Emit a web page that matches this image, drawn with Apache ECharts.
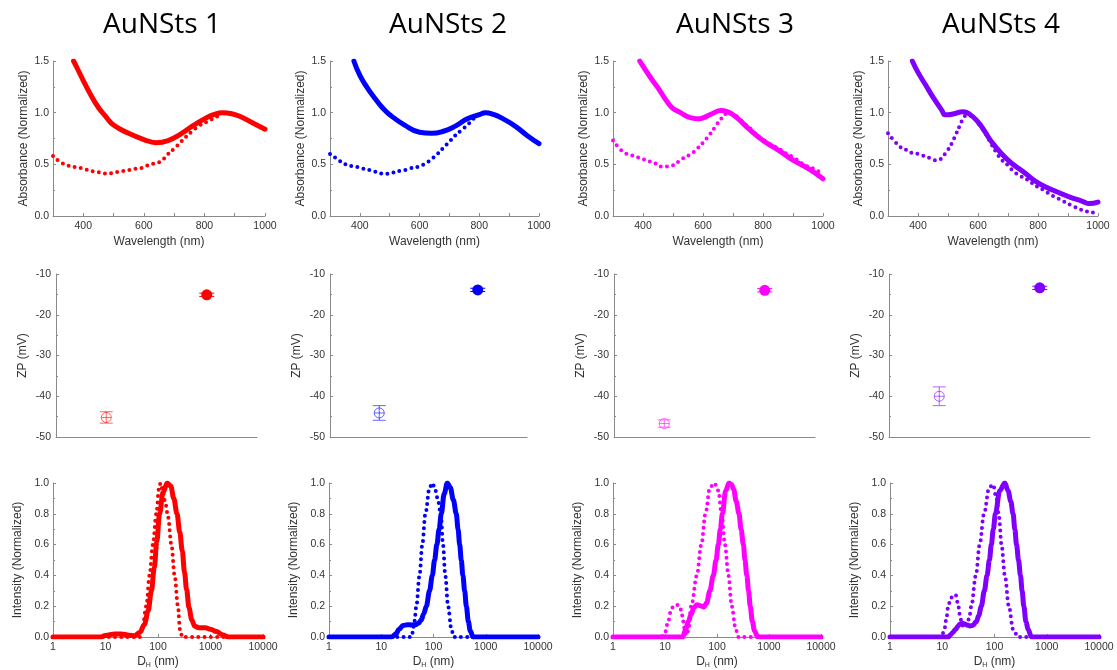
<!DOCTYPE html>
<html><head><meta charset="utf-8">
<script src="https://cdn.jsdelivr.net/npm/echarts@6/dist/echarts.min.js"></script>
<style>html,body{margin:0;padding:0;background:#fff}#c{width:1117px;height:670px}</style>
</head><body><div id="c"></div>
<script>
// ---------- DATA ----------
const panelTitles = ['AuNSts 1', 'AuNSts 2', 'AuNSts 3', 'AuNSts 4'];
const panelColors = ['#ff0000', '#0000ff', '#ff00ff', '#8000ff'];

// UV-Vis absorbance (normalized) vs wavelength (nm)
const absSolid1 = [[368,1.5],[380,1.43],[400,1.31],[425,1.17],[450,1.05],[475,0.96],[500,0.88],[550,0.8],[600,0.74],[640,0.71],[680,0.73],[720,0.79],[760,0.87],[800,0.94],[830,0.98],[860,1.0],[890,0.99],[920,0.96],[960,0.9],[1000,0.84]];
const absDotted1 = [[300,0.58],[320,0.53],[340,0.5],[360,0.48],[380,0.47],[400,0.46],[420,0.44],[440,0.43],[460,0.42],[480,0.41],[500,0.42],[520,0.43],[540,0.44],[560,0.45],[580,0.46],[600,0.47],[620,0.5],[640,0.51],[660,0.54],[680,0.6],[700,0.65],[720,0.71],[740,0.77],[760,0.82],[780,0.87],[800,0.9],[820,0.93],[840,0.96],[860,0.98]];
const absSolid2 = [[380,1.5],[400,1.36],[425,1.24],[450,1.14],[475,1.05],[500,0.98],[550,0.88],[600,0.81],[640,0.8],[680,0.82],[720,0.87],[760,0.94],[800,0.98],[820,1.0],[850,0.98],[880,0.94],[920,0.87],[960,0.78],[1000,0.7]];
const absDotted2 = [[300,0.6],[320,0.56],[340,0.52],[360,0.49],[380,0.48],[400,0.47],[420,0.45],[440,0.44],[460,0.42],[480,0.41],[500,0.41],[520,0.43],[540,0.44],[560,0.45],[580,0.47],[600,0.48],[620,0.51],[640,0.55],[660,0.6],[680,0.66],[700,0.72],[720,0.78],[740,0.83],[760,0.88],[780,0.94],[800,0.98],[820,1.0]];
const absSolid3 = [[389,1.5],[400,1.45],[425,1.34],[450,1.24],[470,1.15],[490,1.07],[500,1.04],[525,1.0],[550,0.96],[580,0.94],[600,0.95],[630,0.99],[660,1.02],[680,1.01],[700,0.98],[725,0.92],[750,0.85],[800,0.73],[850,0.64],[900,0.54],[950,0.46],[1000,0.36]];
const absDotted3 = [[300,0.73],[320,0.66],[340,0.61],[360,0.59],[380,0.57],[400,0.55],[420,0.53],[440,0.51],[460,0.48],[480,0.48],[500,0.49],[520,0.53],[540,0.57],[560,0.6],[580,0.65],[600,0.71],[620,0.78],[640,0.86],[660,0.94],[680,0.99],[700,0.99],[720,0.94],[740,0.89],[760,0.84],[780,0.78],[800,0.74],[820,0.7],[840,0.67],[860,0.64],[880,0.6],[900,0.57],[920,0.53],[940,0.49],[960,0.47],[980,0.44],[1000,0.4]];
const absSolid4 = [[381,1.5],[400,1.39],[425,1.27],[450,1.15],[480,1.02],[490,0.98],[500,0.98],[520,0.99],[550,1.01],[570,0.99],[600,0.91],[620,0.83],[650,0.7],[700,0.54],[750,0.43],[800,0.32],[850,0.25],[900,0.19],[950,0.14],[970,0.12],[1000,0.135]];
const absDotted4 = [[300,0.8],[320,0.73],[340,0.67],[360,0.64],[380,0.61],[400,0.6],[420,0.58],[440,0.56],[460,0.54],[470,0.54],[480,0.57],[500,0.64],[520,0.75],[540,0.88],[550,0.94],[560,0.97],[580,0.97],[600,0.9],[620,0.82],[640,0.72],[660,0.62],[680,0.54],[700,0.49],[720,0.43],[740,0.39],[760,0.36],[780,0.32],[800,0.28],[820,0.25],[840,0.21],[860,0.18],[880,0.15],[900,0.12],[920,0.09],[940,0.065],[960,0.045],[980,0.035],[1000,0.03]];

// Zeta potential (mV): open marker at x=1, filled marker at x=3
const zpOpen = [-45.2, -44.1, -46.7, -40.0];
const zpOpenErr = [1.4, 1.8, 0.9, 2.3];
const zpFilled = [-15.1, -13.9, -14.0, -13.4];
const zpFilledErr = [0.4, 0.4, 0.4, 0.4];
const zpPositions = [1, 3];

// DLS intensity (normalized) vs hydrodynamic diameter (nm)
const dlsSolid1 = [[1,0],[8,0],[10,0.01],[15,0.02],[20,0.02],[28,0.012],[36,0.008],[45,0.03],[55,0.08],[65,0.17],[75,0.3],[85,0.45],[95,0.62],[107,0.8],[125,0.94],[150,1.0],[175,0.98],[200,0.9],[230,0.8],[260,0.68],[290,0.56],[320,0.42],[350,0.31],[390,0.19],[440,0.11],[500,0.07],[600,0.06],[800,0.06],[1000,0.05],[1300,0.035],[1700,0.015],[2200,0],[10000,0]];
const dlsDotted1 = [[1,0],[45,0],[50,0.05],[60,0.2],[69,0.4],[80,0.6],[93,0.8],[104,0.96],[112,1.0],[122,0.96],[140,0.86],[155,0.78],[180,0.6],[207,0.4],[240,0.2],[262,0.05],[290,0],[10000,0]];
const dlsSolid2 = [[1,0],[16,0],[19,0.02],[22,0.05],[26,0.075],[32,0.08],[38,0.078],[45,0.08],[52,0.09],[58,0.11],[65,0.15],[73,0.2],[84,0.3],[95,0.4],[105,0.5],[116,0.6],[128,0.7],[141,0.8],[160,0.93],[184,1.0],[210,0.97],[240,0.89],[273,0.8],[295,0.7],[317,0.6],[340,0.5],[365,0.4],[395,0.3],[425,0.2],[465,0.1],[505,0.04],[575,0],[10000,0]];
const dlsDotted2 = [[1,0],[38,0],[40,0.03],[43,0.1],[47,0.2],[54,0.4],[61,0.6],[70,0.8],[84,0.97],[95,1.0],[105,0.97],[120,0.9],[138,0.8],[152,0.6],[168,0.4],[190,0.2],[220,0.05],[245,0],[10000,0]];
const dlsSolid3 = [[1,0],[22,0],[25,0.05],[28,0.1],[32,0.15],[36,0.19],[41,0.21],[46,0.205],[51,0.2],[56,0.195],[63,0.22],[73,0.3],[85,0.4],[96,0.5],[106,0.6],[116,0.7],[127,0.8],[147,0.95],[170,1.0],[190,0.99],[208,0.96],[235,0.88],[265,0.8],[290,0.7],[322,0.6],[345,0.5],[374,0.4],[405,0.3],[435,0.2],[480,0.1],[525,0.04],[600,0.005],[650,0],[10000,0]];
const dlsDotted3 = [[1,0],[8.5,0],[10,0.03],[11.5,0.1],[13,0.17],[14.5,0.2],[16.5,0.21],[19.5,0.2],[21,0.15],[22.5,0.1],[24,0.04],[26,0.01],[28,0.04],[32,0.2],[41,0.4],[50,0.6],[60,0.8],[73,0.97],[89,1.0],[106,0.95],[123,0.8],[142,0.6],[166,0.4],[192,0.2],[229,0.05],[258,0],[10000,0]];
const dlsSolid4 = [[1,0],[13,0],[14.5,0.015],[16,0.03],[18,0.05],[20,0.07],[22,0.085],[24,0.09],[27,0.085],[30,0.078],[34,0.072],[38,0.075],[45,0.1],[50,0.14],[56,0.2],[64,0.3],[72,0.4],[80,0.5],[87,0.6],[95,0.7],[104,0.8],[126,0.95],[158,1.0],[182,0.95],[205,0.88],[227,0.8],[245,0.7],[264,0.6],[288,0.5],[314,0.4],[338,0.3],[364,0.2],[400,0.1],[440,0.05],[509,0],[10000,0]];
const dlsDotted4 = [[1,0],[9.7,0],[11,0.05],[12,0.12],[13,0.2],[14.5,0.25],[16.2,0.275],[18.3,0.27],[20.3,0.2],[22,0.13],[23.4,0.1],[25,0.07],[27,0.06],[30,0.08],[33,0.13],[36,0.2],[44,0.4],[52,0.6],[63,0.8],[79,0.97],[94,0.99],[109,0.9],[122,0.78],[136,0.6],[158,0.4],[188,0.2],[227,0.05],[282,0],[10000,0]];

// tick labels
const absXTicks = [400, 600, 800, 1000];
const absYTicks = ['0.0', '0.5', '1.0', '1.5'];
const zpYTicks = ['-50', '-40', '-30', '-20', '-10'];
const dlsXTicks = ['1', '10', '100', '1000', '10000'];
const dlsYTicks = ['0.0', '0.2', '0.4', '0.6', '0.8', '1.0'];

const absSolid = [absSolid1, absSolid2, absSolid3, absSolid4];
const absDotted = [absDotted1, absDotted2, absDotted3, absDotted4];
const dlsSolid = [dlsSolid1, dlsSolid2, dlsSolid3, dlsSolid4];
const dlsDotted = [dlsDotted1, dlsDotted2, dlsDotted3, dlsDotted4];

// ---------- LAYOUT ----------
const topRow = {top: 61, height: 155, boxes: [[53,212],[330,209],[613,210],[888,210]]};
const midRow = {top: 274, height: 163, boxes: [[56,201],[330,197],[614,201],[889,201]]};
const botRow = {top: 483, height: 154, boxes: [[53,210],[329,209],[613,208],[890,209]]};
const titleCenters = [157, 443, 730, 996];

const FONT = 'Liberation Sans, Arial, sans-serif';
const axisLineStyle = {lineStyle: {color: '#8a8a8a', width: 1}};
const labelStyle = {color: '#333', fontSize: 10.5, fontFamily: FONT};
const nameStyle = {color: '#333', fontSize: 12, fontFamily: FONT};

function fade(hex, a) {
  const r = parseInt(hex.slice(1,3),16), g = parseInt(hex.slice(3,5),16), b = parseInt(hex.slice(5,7),16);
  return 'rgba(' + r + ',' + g + ',' + b + ',' + a + ')';
}

const grid = [], xAxis = [], yAxis = [], series = [], title = [];

for (let i = 0; i < 4; i++) {
  title.push({
    text: panelTitles[i], left: titleCenters[i], top: 6, textAlign: 'center',
    textStyle: {fontSize: 28, fontWeight: 'normal', color: '#000', fontFamily: 'Open Sans, Noto Sans, sans-serif'}
  });
}

function addGrid(row, i) {
  grid.push({left: row.boxes[i][0], width: row.boxes[i][1], top: row.top, height: row.height, containLabel: false});
  return grid.length - 1;
}

// ---- top row: absorbance
for (let i = 0; i < 4; i++) {
  const g = addGrid(topRow, i);
  xAxis.push({
    gridIndex: g, type: 'value', min: 300, max: 1000, interval: 100,
    name: 'Wavelength (nm)', nameLocation: 'middle', nameGap: 20, nameTextStyle: nameStyle,
    axisLine: axisLineStyle, splitLine: {show: false},
    axisTick: {show: true, inside: true, length: 3, lineStyle: {color: '#8a8a8a'}},
    axisLabel: Object.assign({margin: 5, showMinLabel: false, formatter: v => absXTicks.indexOf(v) >= 0 ? String(v) : ''}, labelStyle)
  });
  yAxis.push({
    gridIndex: g, type: 'value', min: 0, max: 1.5, interval: 0.5,
    name: 'Absorbance (Normalized)', nameLocation: 'middle', nameGap: 23, nameTextStyle: nameStyle,
    axisLine: Object.assign({show: true}, axisLineStyle), splitLine: {show: false},
    axisTick: {show: true, inside: true, length: 3, lineStyle: {color: '#8a8a8a'}},
    minorTick: {show: true, splitNumber: 2, length: 2, lineStyle: {color: '#8a8a8a'}},
    axisLabel: Object.assign({margin: 4, formatter: v => absYTicks[Math.round(v / 0.5)]}, labelStyle)
  });
  series.push({
    type: 'line', xAxisIndex: g, yAxisIndex: g, data: absDotted[i], showSymbol: false, symbol: 'none',
    smooth: 0.5, silent: true,
    lineStyle: {color: panelColors[i], width: 4, type: [0, 6.2], cap: 'round'}
  });
  series.push({
    type: 'line', xAxisIndex: g, yAxisIndex: g, data: absSolid[i], showSymbol: false, symbol: 'none',
    smooth: 0.5, silent: true,
    lineStyle: {color: panelColors[i], width: 5, cap: 'round', join: 'round'}
  });
}

// ---- middle row: zeta potential
function zpRenderer(color, filled) {
  return function (params, api) {
    const x = api.value(0), y = api.value(1), e = api.value(2);
    const c = api.coord([x, y]), hi = api.coord([x, y + e]), lo = api.coord([x, y - e]);
    const stroke = filled ? color : fade(color, 0.6);
    const capW = filled ? 7.5 : 6.5;
    const children = [
      {type: 'line', shape: {x1: c[0], y1: hi[1], x2: c[0], y2: lo[1]}, style: {stroke: stroke, lineWidth: 1}},
      {type: 'line', shape: {x1: c[0] - capW, y1: hi[1], x2: c[0] + capW, y2: hi[1]}, style: {stroke: stroke, lineWidth: 1}},
      {type: 'line', shape: {x1: c[0] - capW, y1: lo[1], x2: c[0] + capW, y2: lo[1]}, style: {stroke: stroke, lineWidth: 1}}
    ];
    if (filled) {
      children.push({type: 'circle', shape: {cx: c[0], cy: c[1], r: 5.5}, style: {fill: color}});
    } else {
      children.push({type: 'circle', shape: {cx: c[0], cy: c[1], r: 5}, style: {fill: 'none', stroke: stroke, lineWidth: 1}});
      children.push({type: 'line', shape: {x1: c[0] - 5, y1: c[1], x2: c[0] + 5, y2: c[1]}, style: {stroke: stroke, lineWidth: 1}});
    }
    return {type: 'group', children: children};
  };
}

for (let i = 0; i < 4; i++) {
  const g = addGrid(midRow, i);
  xAxis.push({
    gridIndex: g, type: 'value', min: 0, max: 4,
    axisLine: axisLineStyle, axisTick: {show: false}, axisLabel: {show: false}, splitLine: {show: false}
  });
  yAxis.push({
    gridIndex: g, type: 'value', min: -50, max: -10, interval: 10,
    name: 'ZP (mV)', nameLocation: 'middle', nameGap: 27, nameTextStyle: nameStyle,
    axisLine: Object.assign({show: true}, axisLineStyle), splitLine: {show: false},
    axisTick: {show: true, inside: true, length: 3, lineStyle: {color: '#8a8a8a'}},
    minorTick: {show: true, splitNumber: 2, length: 2, lineStyle: {color: '#8a8a8a'}},
    axisLabel: Object.assign({margin: 5, formatter: v => zpYTicks[Math.round((v + 50) / 10)]}, labelStyle)
  });
  series.push({
    type: 'custom', xAxisIndex: g, yAxisIndex: g, silent: true,
    renderItem: zpRenderer(panelColors[i], false),
    data: [[zpPositions[0], zpOpen[i], zpOpenErr[i]]]
  });
  series.push({
    type: 'custom', xAxisIndex: g, yAxisIndex: g, silent: true,
    renderItem: zpRenderer(panelColors[i], true),
    data: [[zpPositions[1], zpFilled[i], zpFilledErr[i]]]
  });
}

// ---- bottom row: DLS
for (let i = 0; i < 4; i++) {
  const g = addGrid(botRow, i);
  xAxis.push({
    gridIndex: g, type: 'log', logBase: 10, min: 1, max: 10000,
    name: '{n|D}{s|H}{n| (nm)}', nameLocation: 'middle', nameGap: 18,
    nameTextStyle: {rich: {n: nameStyle, s: {color: '#333', fontSize: 7, fontFamily: FONT, padding: [7, 0, 0, 0]}}},
    axisLine: axisLineStyle, splitLine: {show: false},
    axisTick: {show: true, inside: true, length: 3, lineStyle: {color: '#8a8a8a'}},
    axisLabel: Object.assign({margin: 5, formatter: v => dlsXTicks[Math.round(Math.log10(v))]}, labelStyle)
  });
  yAxis.push({
    gridIndex: g, type: 'value', min: 0, max: 1, interval: 0.2,
    name: 'Intensity (Normalized)', nameLocation: 'middle', nameGap: 29, nameTextStyle: nameStyle,
    axisLine: Object.assign({show: true}, axisLineStyle), splitLine: {show: false},
    axisTick: {show: true, inside: true, length: 3, lineStyle: {color: '#8a8a8a'}},
    minorTick: {show: true, splitNumber: 2, length: 2, lineStyle: {color: '#8a8a8a'}},
    axisLabel: Object.assign({margin: 4, formatter: v => dlsYTicks[Math.round(v / 0.2)]}, labelStyle)
  });
  series.push({
    type: 'line', xAxisIndex: g, yAxisIndex: g, data: dlsDotted[i], showSymbol: false, symbol: 'none',
    smooth: 0.35, smoothMonotone: 'x', silent: true,
    lineStyle: {color: panelColors[i], width: 4, type: [0, 6.2], cap: 'round'}
  });
  series.push({
    type: 'line', xAxisIndex: g, yAxisIndex: g, data: dlsSolid[i], showSymbol: false, symbol: 'none',
    smooth: 0.35, smoothMonotone: 'x', silent: true,
    lineStyle: {color: panelColors[i], width: 5, cap: 'round', join: 'round'}
  });
}

const chart = echarts.init(document.getElementById('c'), null, {renderer: 'canvas'});
chart.setOption({animation: false, backgroundColor: '#fff', title: title, grid: grid, xAxis: xAxis, yAxis: yAxis, series: series});
</script></body></html>
